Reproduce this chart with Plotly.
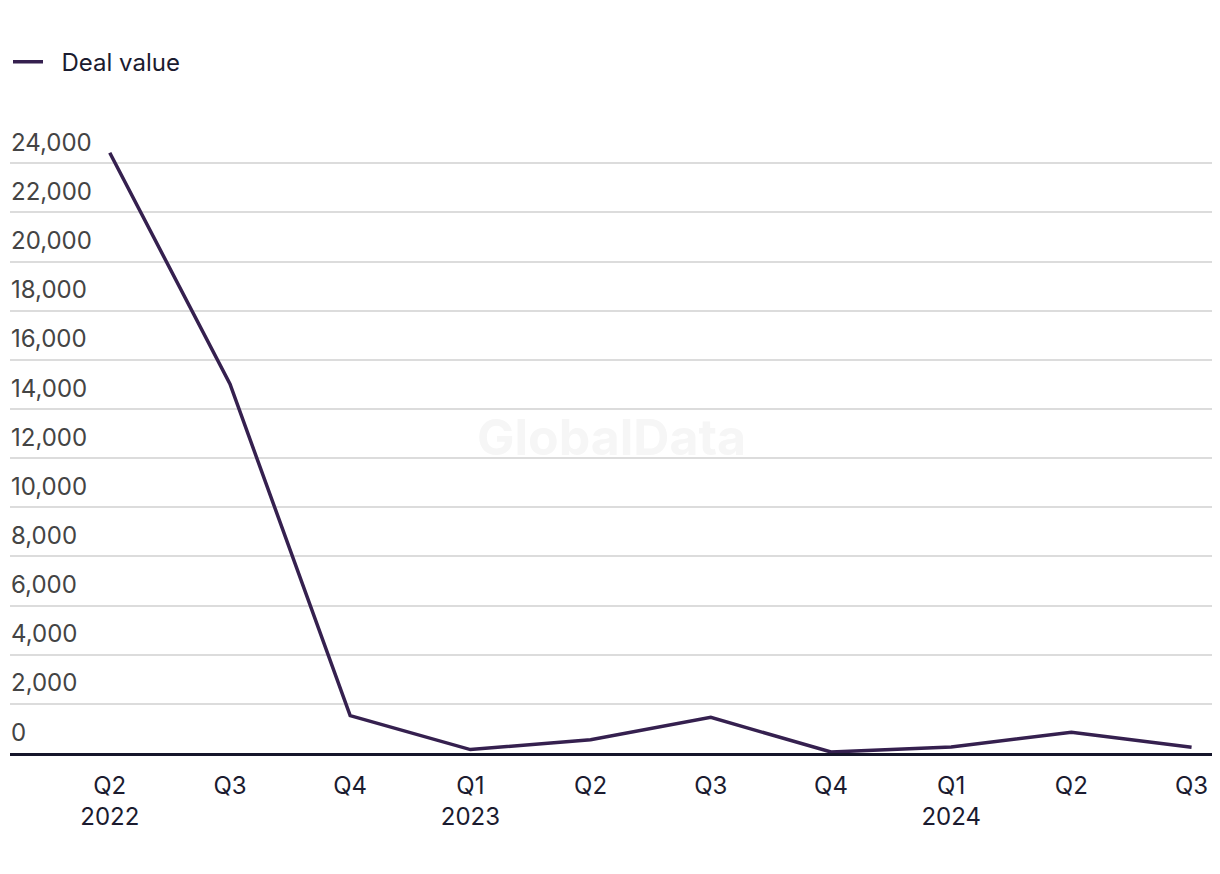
import plotly.graph_objects as go

# --- data ---
quarters = ["Q2<br>2022", "Q3", "Q4", "Q1<br>2023", "Q2", "Q3", "Q4", "Q1<br>2024", "Q2", "Q3"]
deal_value = [24430, 15020, 1520, 140, 540, 1450, 40, 245, 840, 230]
y_ticks = list(range(0, 24001, 2000))

x_pos = list(range(len(quarters)))

fig = go.Figure()
fig.add_trace(go.Scatter(
    x=x_pos,
    y=deal_value,
    mode="lines",
    name="\u00a0\u00a0Deal value",
    line=dict(color="#35204f", width=3.5),
))

# faint watermark in the middle of the plot
fig.add_annotation(
    text="GlobalData", xref="paper", yref="paper", x=0.5, y=0.502,
    showarrow=False, font=dict(family="Inter", size=50, color="#f6f6f6", weight="bold"),
)

fig.update_layout(
    width=1220, height=874,
    paper_bgcolor="white", plot_bgcolor="white",
    margin=dict(l=2, r=16, t=116, b=129),
    font=dict(family="Inter", size=24, color="#1b1b2f"),
    showlegend=True,
    legend=dict(
        orientation="h", x=-0.006, xanchor="left",
        yref="container", y=0.938, yanchor="middle",
        font=dict(size=24, color="#1b1b2f"),
    ),
)
fig.update_xaxes(
    tickvals=x_pos, ticktext=quarters,
    range=[-0.83, len(quarters) - 0.83],
    showgrid=False, zeroline=False,
    showline=True, linecolor="#15152a", linewidth=2.5,
    ticks="", ticklabelstandoff=9,
)
fig.update_yaxes(
    range=[0, 25600],
    tickvals=y_ticks, tickformat=",d",
    ticklabelposition="inside top", ticklabelshift=-4, ticklabelstandoff=-2,
    showgrid=True, gridcolor="#dcdcdc", gridwidth=1.5,
    zeroline=False, showline=False, ticks="",
)

fig.write_html("out.html")
